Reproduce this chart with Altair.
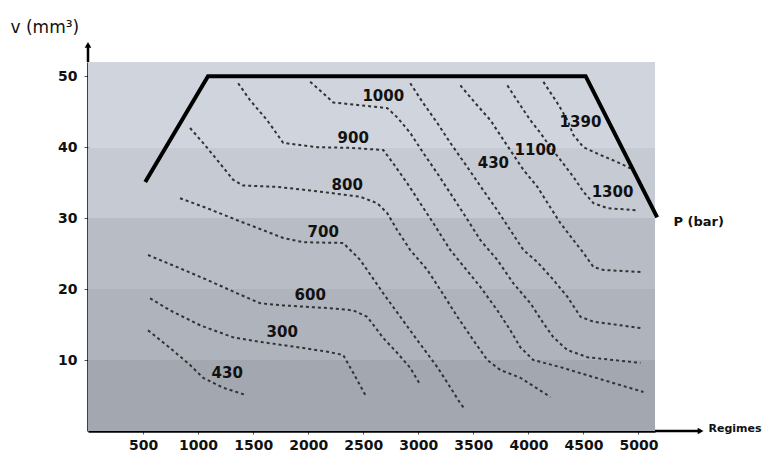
import altair as alt
import pandas as pd

FONT = "DejaVu Sans"

# ---------------- data ----------------
X_TICKS = [500, 1000, 1500, 2000, 2500, 3000, 3500, 4000, 4500, 5000]
Y_TICKS = [10, 20, 30, 40, 50]

BAND_LO = [0, 10, 20, 30, 40]
BAND_HI = [10, 20, 30, 40, 52]
BAND_COLORS = ["#a3a7af", "#afb3bb", "#b8bcc4", "#c6cad2", "#d0d4dc"]

BOUNDARY_X = [520, 1090, 4520, 5170]
BOUNDARY_Y = [35.1, 50, 50, 30.1]

C430A_X = [545, 745, 927, 1045, 1227, 1427]
C430A_Y = [14.2, 11.7, 9.3, 7.5, 6.1, 5.1]
C300_X = [564, 745, 1018, 1318, 1591, 1955, 2200, 2318, 2409, 2518]
C300_Y = [18.7, 17.0, 14.9, 13.2, 12.5, 11.7, 11.1, 10.7, 8.2, 5.1]
C600_X = [545, 809, 1082, 1355, 1564, 1773, 2200, 2409, 2536, 2682, 2809, 2927, 3018]
C600_Y = [24.8, 23.1, 21.3, 19.4, 18.0, 17.7, 17.3, 17.0, 16.1, 13.1, 11.0, 8.9, 6.5]
C700_X = [836, 1082, 1355, 1591, 1773, 1955, 2318, 2473, 2682, 2991, 3173, 3264, 3382, 3427]
C700_Y = [32.8, 31.4, 29.7, 28.3, 27.2, 26.6, 26.5, 24.1, 19.4, 12.8, 9.0, 6.8, 3.9, 3.0]
C800_X = [927, 1045, 1173, 1318, 1409, 1718, 2018, 2227, 2473, 2627, 2718, 2809, 2927,
          3082, 3200, 3355, 3500, 3627, 3745, 3927, 4200]
C800_Y = [42.7, 40.6, 38.2, 35.4, 34.6, 34.4, 33.9, 33.5, 33.0, 32.1, 30.7, 28.3, 25.5,
          22.7, 19.9, 16.1, 12.8, 10.0, 8.6, 7.5, 4.8]
C900_X = [1364, 1473, 1627, 1773, 2082, 2382, 2682, 2773, 2900, 3018, 3136, 3291, 3564,
          3718, 3836, 3927, 4045, 4291, 4591, 5045]
C900_Y = [49.0, 46.6, 43.8, 40.6, 40.0, 39.9, 39.6, 37.7, 34.9, 32.1, 29.3, 25.5, 20.3,
          17.0, 14.2, 11.8, 10.0, 9.0, 7.6, 5.5]
C1000_X = [2018, 2136, 2227, 2473, 2718, 2809, 2927, 3045, 3173, 3291, 3409, 3564, 3718,
           3864, 4018, 4136, 4227, 4355, 4536, 4773, 5018]
C1000_Y = [49.2, 47.6, 46.3, 45.9, 45.5, 44.2, 42.0, 39.2, 36.3, 33.5, 30.7, 26.9, 24.1,
           20.8, 18.0, 15.2, 13.2, 11.4, 10.4, 10.0, 9.6]
C430B_X = [2927, 3045, 3173, 3291, 3445, 3591, 3718, 3836, 3955, 4082, 4227, 4355, 4473,
           4591, 4836, 5018]
C430B_Y = [49.0, 46.2, 43.4, 40.6, 37.2, 33.9, 31.1, 28.3, 25.5, 23.8, 21.3, 18.9, 16.1,
           15.4, 14.9, 14.5]
C1100_X = [3382, 3518, 3655, 3791, 3955, 4082, 4200, 4291, 4409, 4500, 4591, 4682, 5018]
C1100_Y = [48.7, 46.2, 43.8, 40.6, 36.8, 34.4, 31.5, 29.3, 26.9, 25.1, 23.1, 22.7, 22.4]
C1390_X = [4136, 4264, 4355, 4409, 4500, 4655, 4836, 4927]
C1390_Y = [49.2, 46.2, 43.8, 41.7, 40.0, 38.9, 37.7, 37.0]
C1300_X = [3809, 3927, 4018, 4109, 4200, 4291, 4409, 4500, 4591, 4718, 4991]
C1300_Y = [48.7, 45.9, 43.8, 42.0, 40.0, 38.2, 35.8, 33.7, 32.1, 31.4, 31.1]

LABEL_TEXT = ["430", "300", "600", "700", "800", "900", "1000", "430", "1100", "1390", "1300"]
LABEL_X = [1264, 1764, 2018, 2136, 2355, 2409, 2682, 3682, 4064, 4473, 4764]
LABEL_Y = [8.2, 13.9, 19.2, 28.0, 34.6, 41.3, 47.2, 37.7, 39.6, 43.5, 33.7]

P_LABEL = ["P (bar)"]
P_LABEL_X = [5318]
P_LABEL_Y = [29.4]

X_MAX = 5150
Y_MAX = 52
X_AXIS_END = 5564
Y_AXIS_END = 54.4

# ---------------- tables ----------------
bands = pd.DataFrame({"x": [0] * 5, "x2": [X_MAX] * 5, "y": BAND_LO, "y2": BAND_HI, "c": BAND_COLORS})

contour_list = [
    ("430a", C430A_X, C430A_Y), ("300", C300_X, C300_Y), ("600", C600_X, C600_Y),
    ("700", C700_X, C700_Y), ("800", C800_X, C800_Y), ("900", C900_X, C900_Y),
    ("1000", C1000_X, C1000_Y), ("430b", C430B_X, C430B_Y), ("1100", C1100_X, C1100_Y),
    ("1390", C1390_X, C1390_Y), ("1300", C1300_X, C1300_Y),
]
rows = []
for cid, xs_, ys_ in contour_list:
    for i, (a, b) in enumerate(zip(xs_, ys_)):
        rows.append({"id": cid, "ord": i, "x": a, "y": b})
contours = pd.DataFrame(rows)

boundary = pd.DataFrame({"x": BOUNDARY_X, "y": BOUNDARY_Y, "ord": list(range(len(BOUNDARY_X)))})
labels = pd.DataFrame({"x": LABEL_X, "y": LABEL_Y, "t": LABEL_TEXT})
plabel = pd.DataFrame({"x": P_LABEL_X, "y": P_LABEL_Y, "t": P_LABEL})
ext = pd.DataFrame({"x": [X_MAX, 0], "x2": [X_AXIS_END, 0], "y": [0, Y_MAX], "y2": [0, Y_AXIS_END]})
arrows = pd.DataFrame({"x": [X_AXIS_END, 0], "y": [0, Y_AXIS_END], "s": ["triangle-right", "triangle-up"]})

# ---------------- scales / axes ----------------
xs = alt.Scale(domain=[0, X_MAX], nice=False, zero=False)
ys = alt.Scale(domain=[0, Y_MAX], nice=False, zero=False)

x_axis = alt.Axis(
    values=X_TICKS, format="d", title="Regimes", grid=False, domainColor="#000", domainWidth=2.5,
    tickColor="#555", tickSize=3, tickWidth=1, labelFont=FONT, labelFontWeight="bold",
    labelFontSize=14, labelColor="#111", labelPadding=4, labelOverlap=False,
    titleFont=FONT, titleFontWeight="bold", titleFontSize=11, titleColor="#111",
    titleX=620, titleY=-3, titleAlign="left", titleBaseline="middle",
)
y_axis = alt.Axis(
    values=Y_TICKS, format="d", title="v (mm³)", grid=False, domainColor="#000", domainWidth=2.5,
    tickColor="#555", tickSize=4, tickWidth=1, labelFont=FONT, labelFontWeight="bold",
    labelFontSize=14, labelColor="#111", labelPadding=7, labelOverlap=False,
    titleFont=FONT, titleFontWeight="normal", titleFontSize=17, titleColor="#111",
    titleAngle=0, titleX=-78, titleY=-35, titleAlign="left", titleBaseline="middle",
)


def X(f):
    return alt.X(f, type="quantitative", scale=xs, axis=x_axis)


def Y(f):
    return alt.Y(f, type="quantitative", scale=ys, axis=y_axis)


band_layer = alt.Chart(bands).mark_rect().encode(
    x=X("x"), x2="x2", y=Y("y"), y2="y2", color=alt.Color("c:N", scale=None)
)

contour_layer = alt.Chart(contours).mark_line(
    strokeDash=[3, 3], strokeWidth=2, color="#333333"
).encode(x=X("x"), y=Y("y"), detail="id:N", order="ord:Q")

boundary_layer = alt.Chart(boundary).mark_line(
    strokeWidth=4, color="#000", strokeJoin="miter"
).encode(x=X("x"), y=Y("y"), order="ord:Q")

label_layer = alt.Chart(labels).mark_text(
    font=FONT, fontWeight="bold", fontSize=15, color="#111"
).encode(x=X("x"), y=Y("y"), text="t:N")

plabel_layer = alt.Chart(plabel).mark_text(
    font=FONT, fontWeight="bold", fontSize=13, color="#111", align="left"
).encode(x=X("x"), y=Y("y"), text="t:N")

ext_layer = alt.Chart(ext).mark_rule(strokeWidth=2.5, color="#000").encode(
    x=X("x"), x2="x2", y=Y("y"), y2="y2"
)

arrow_layer = alt.Chart(arrows).mark_point(filled=True, color="#000", size=45, opacity=1).encode(
    x=X("x"), y=Y("y"), shape=alt.Shape("s:N", scale=None)
)

chart = alt.layer(
    band_layer, contour_layer, boundary_layer, label_layer, plabel_layer, ext_layer, arrow_layer
).properties(
    width=567, height=369,
    autosize=alt.AutoSizeParams(type="none"),
    padding={"left": 80, "top": 54, "right": 112, "bottom": 30},
    background="#ffffff",
).configure_view(strokeWidth=0)

chart.save("out.html", embed_options={"renderer": "svg", "actions": False})
